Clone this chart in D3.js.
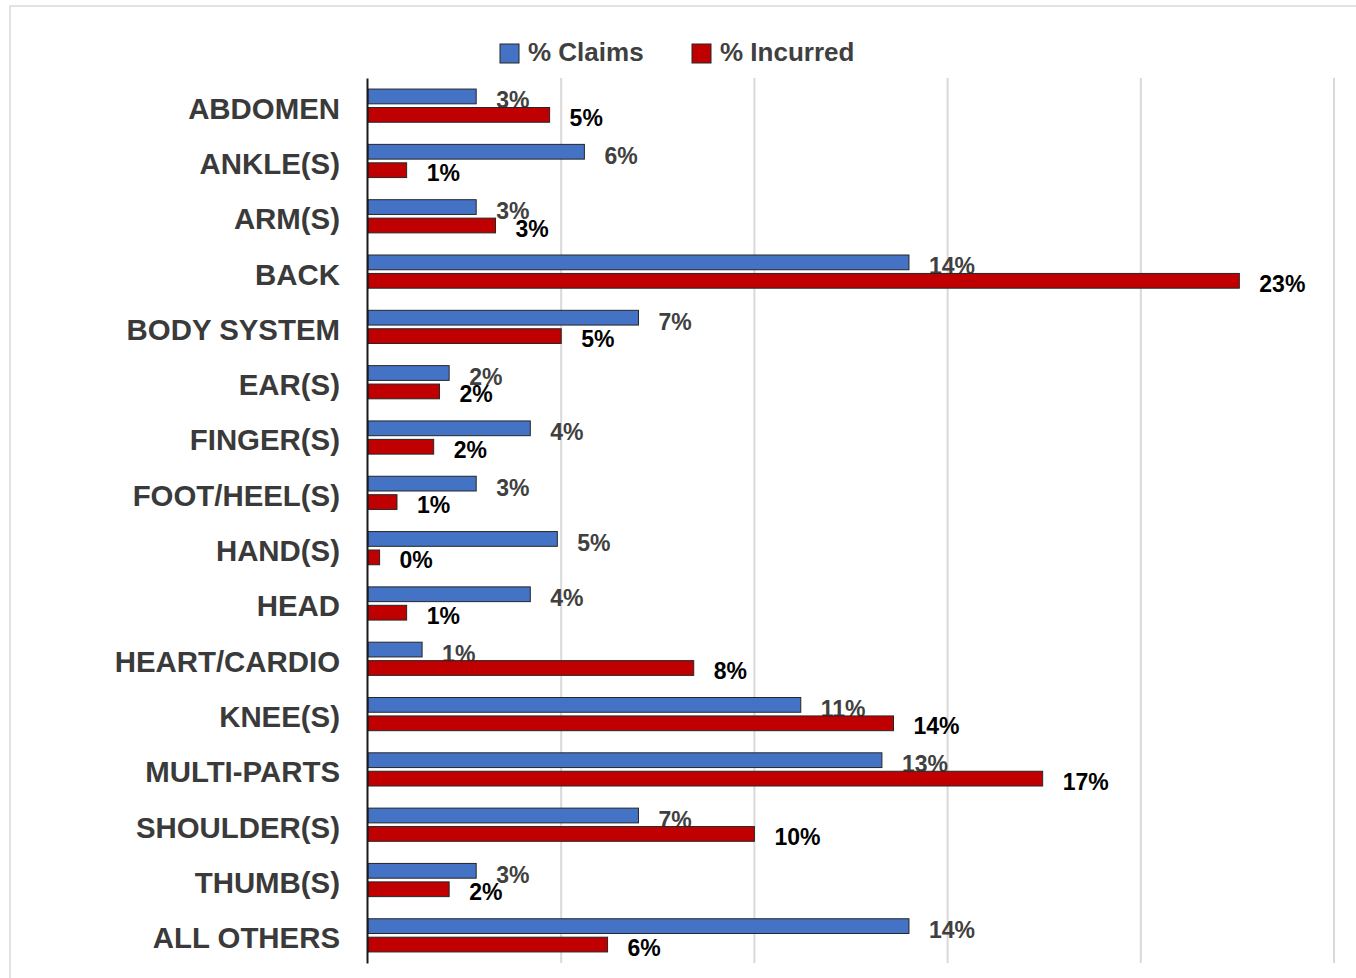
<!DOCTYPE html>
<html>
<head>
<meta charset="utf-8">
<script src="https://cdn.jsdelivr.net/npm/d3@7"></script>
<style>
  html, body { margin: 0; padding: 0; background: #ffffff; }
  svg { display: block; font-family: "Liberation Sans", Arial, sans-serif; }
</style>
</head>
<body>
<svg id="chart" width="1356" height="978"></svg>
<script>
// Body parts, top to bottom
const categories = [
  "ABDOMEN", "ANKLE(S)", "ARM(S)", "BACK", "BODY SYSTEM", "EAR(S)",
  "FINGER(S)", "FOOT/HEEL(S)", "HAND(S)", "HEAD", "HEART/CARDIO",
  "KNEE(S)", "MULTI-PARTS", "SHOULDER(S)", "THUMB(S)", "ALL OTHERS"
];

// Share of claims by body part
const claims = [
  0.028, 0.056, 0.028, 0.140, 0.070, 0.021,
  0.042, 0.028, 0.049, 0.042, 0.014,
  0.112, 0.133, 0.070, 0.028, 0.140
];

// Share of incurred cost by body part
const incurred = [
  0.047, 0.010, 0.033, 0.2255, 0.050, 0.0185,
  0.017, 0.0075, 0.003, 0.010, 0.0843,
  0.136, 0.1746, 0.100, 0.021, 0.062
];

const seriesNames = ["% Claims", "% Incurred"];
const xTicks = [0.05, 0.10, 0.15, 0.20, 0.25];

const colors = { "% Claims": "#4472C4", "% Incurred": "#C00000" };
const labelColors = { "% Claims": "#404040", "% Incurred": "#000000" };

const svg = d3.select("#chart");

// outer frame
svg.append("rect")
  .attr("x", 10).attr("y", 6)
  .attr("width", 1400).attr("height", 1000)
  .attr("fill", "none")
  .attr("stroke", "#e3e3e3")
  .attr("stroke-width", 2);

const x = d3.scaleLinear().domain([0, 0.25]).range([368, 1334]);
const y = d3.scaleBand()
  .domain(categories)
  .range([78, 963])
  .paddingInner(0.4)
  .paddingOuter(0.2);
const ySub = d3.scaleBand()
  .domain(seriesNames)
  .range([0, y.bandwidth()])
  .paddingInner(0.2);

// vertical gridlines
svg.append("g")
  .selectAll("line")
  .data(xTicks)
  .join("line")
  .attr("x1", d => x(d)).attr("x2", d => x(d))
  .attr("y1", 78).attr("y2", 963)
  .attr("stroke", "#d9d9d9")
  .attr("stroke-width", 2);

const rows = categories.map((c, i) => ({ cat: c, "% Claims": claims[i], "% Incurred": incurred[i] }));
const fmt = d3.format(".0%");

function drawSeries(name, baselineOffset) {
  const g = svg.append("g");
  g.selectAll("rect")
    .data(rows)
    .join("rect")
    .attr("x", x(0))
    .attr("y", d => y(d.cat) + ySub(name))
    .attr("width", d => x(d[name]) - x(0))
    .attr("height", ySub.bandwidth())
    .attr("fill", colors[name])
    .attr("stroke", "#262626")
    .attr("stroke-width", 1);
  g.selectAll("text")
    .data(rows)
    .join("text")
    .attr("x", d => x(d[name]) + 20)
    .attr("y", d => y(d.cat) + ySub(name) + ySub.bandwidth() / 2 + baselineOffset)
    .attr("font-size", 23)
    .attr("font-weight", "bold")
    .attr("fill", labelColors[name])
    .text(d => fmt(d[name]));
}

drawSeries("% Claims", 12);
drawSeries("% Incurred", 11);

// category axis
const yAxis = svg.append("g")
  .attr("transform", `translate(${x(0) - 1},0)`)
  .call(d3.axisLeft(y).tickSize(0).tickSizeOuter(0).tickPadding(27));
yAxis.select(".domain")
  .attr("stroke", "#1a1a1a")
  .attr("stroke-width", 2);
yAxis.selectAll(".tick text")
  .attr("font-family", "'Liberation Sans', Arial, sans-serif")
  .attr("font-size", 29.4)
  .attr("font-weight", "bold")
  .attr("fill", "#3a3a3a")
  .attr("dy", "0.44em");

// legend
const legendX = { "% Claims": 500, "% Incurred": 692 };
const legend = svg.append("g")
  .selectAll("g")
  .data(seriesNames)
  .join("g")
  .attr("transform", d => `translate(${legendX[d]},44)`);
legend.append("rect")
  .attr("width", 19).attr("height", 19)
  .attr("fill", d => colors[d])
  .attr("stroke", "#262626")
  .attr("stroke-width", 1);
legend.append("text")
  .attr("x", 28).attr("y", 17)
  .attr("font-size", 26)
  .attr("font-weight", "bold")
  .attr("fill", "#404040")
  .text(d => d);
</script>
</body>
</html>
